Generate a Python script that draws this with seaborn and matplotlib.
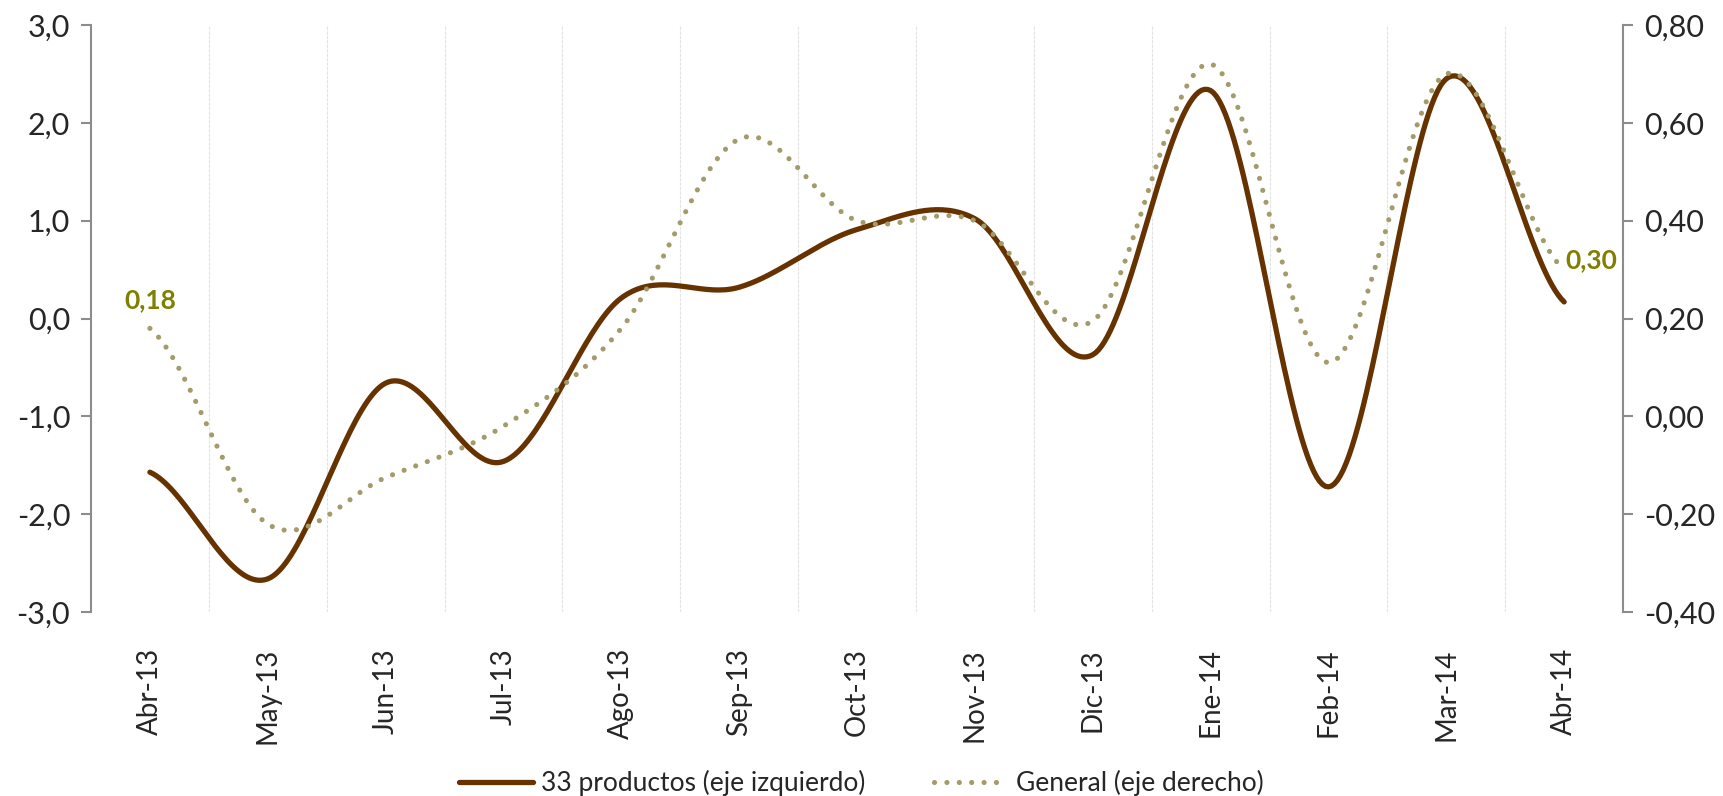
"""
Precios: 33 productos vs general (variación %), abr-13 a abr-14
"""

import numpy as np
import pandas as pd
import matplotlib
matplotlib.use("Agg")
import matplotlib.pyplot as plt
import seaborn as sns
from matplotlib.lines import Line2D
from matplotlib.ticker import FuncFormatter

# Data
meses = ["Abr-13", "May-13", "Jun-13", "Jul-13", "Ago-13", "Sep-13", "Oct-13",
         "Nov-13", "Dic-13", "Ene-14", "Feb-14", "Mar-14", "Abr-14"]
productos_33 = [-1.57, -2.66, -0.66, -1.46, 0.21, 0.32, 0.91,
                1.02, -0.37, 2.33, -1.72, 2.45, 0.17]
general = [0.18, -0.22, -0.125, -0.02, 0.18, 0.567, 0.40,
           0.40, 0.195, 0.72, 0.11, 0.70, 0.30]

BROWN = "#663300"
DOTS = "#A39B6A"
LABEL = "#808000"
AXIS = "#8C8C8C"


def smooth(values, n=40):
    """Excel-like smoothed line (Catmull-Rom through every point)."""
    y = np.asarray(values, dtype=float)
    p = np.concatenate([[y[0]], y, [y[-1]]])
    xs, ys = [], []
    for i in range(len(y) - 1):
        p0, p1, p2, p3 = p[i], p[i + 1], p[i + 2], p[i + 3]
        t = np.linspace(0, 1, n, endpoint=False)
        c = (0.5 * ((2 * p1) + (-p0 + p2) * t + (2 * p0 - 5 * p1 + 4 * p2 - p3) * t ** 2
                    + (-p0 + 3 * p1 - 3 * p2 + p3) * t ** 3))
        xs.append(i + t)
        ys.append(c)
    xs.append([len(y) - 1])
    ys.append([y[-1]])
    return np.concatenate(xs), np.concatenate(ys)


sns.set_style("white")
plt.rcParams["font.family"] = ["Lato", "DejaVu Sans"]

fig, ax = plt.subplots(figsize=(17.23, 7.96), dpi=100)
fig.subplots_adjust(left=0.0528, right=0.942, top=0.9686, bottom=0.231)
ax2 = ax.twinx()

x1, y1 = smooth(productos_33)
df1 = pd.DataFrame({"x": x1, "y": y1})
sns.lineplot(data=df1, x="x", y="y", ax=ax, color=BROWN, linewidth=3.8,
             solid_capstyle="round", zorder=3)

dot_style = (0, (0.01, 2.4))
x2, y2 = smooth(general)
df2 = pd.DataFrame({"x": x2, "y": y2})
sns.lineplot(data=df2, x="x", y="y", ax=ax2, color=DOTS, linewidth=3.7,
             linestyle=dot_style, dash_capstyle="round", zorder=2)

n = len(meses)
for a in (ax, ax2):
    a.set_xlim(-0.5, n - 0.5)
    a.set_xlabel("")
    a.set_ylabel("")

ax.set_ylim(-3, 3)
ax.set_yticks(np.arange(-3, 3.01, 1))
ax.yaxis.set_major_formatter(FuncFormatter(lambda v, p: f"{v:.1f}".replace(".", ",")))
ax2.set_ylim(-0.4, 0.8)
ax2.set_yticks(np.arange(-0.4, 0.801, 0.2))
ax2.yaxis.set_major_formatter(FuncFormatter(lambda v, p: f"{v:.2f}".replace(".", ",")))

ax.set_xticks(range(n))
ax.set_xticklabels(meses, rotation=90)
ax.tick_params(axis="x", length=0, pad=26, labelsize=20)
ax.tick_params(axis="y", length=7, width=1.5, color=AXIS, labelsize=22, pad=8, left=True)
ax2.tick_params(axis="y", length=7, width=1.5, color=AXIS, labelsize=22, pad=8, right=True)

# band separators
for b in np.arange(0.5, n - 0.5, 1):
    ax.axvline(b, color="#E3E3E3", linewidth=0.8, linestyle=(0, (3, 1)), zorder=0)

for a in (ax, ax2):
    for s in ("top", "bottom"):
        a.spines[s].set_visible(False)
    a.spines["left"].set_color(AXIS)
    a.spines["right"].set_color(AXIS)
    a.spines["left"].set_linewidth(1.5)
    a.spines["right"].set_linewidth(1.5)
ax.spines["right"].set_visible(False)
ax2.spines["left"].set_visible(False)

# data labels for first and last point of "General"
ax2.annotate(f"{general[0]:.2f}".replace(".", ","), (0, general[0]),
             xytext=(0, 12), textcoords="offset points", ha="center", va="bottom",
             color=LABEL, fontsize=19, fontweight="bold")
ax2.annotate(f"{general[-1]:.2f}".replace(".", ","), (n - 1, general[-1]),
             xytext=(1, -2), textcoords="offset points", ha="left", va="bottom",
             color=LABEL, fontsize=19, fontweight="bold")

handles = [
    Line2D([], [], color=BROWN, linewidth=3.8, solid_capstyle="round"),
    Line2D([], [], color=DOTS, linewidth=3.7, linestyle=dot_style,
           dash_capstyle="round"),
]
fig.legend(handles, ["33 productos (eje izquierdo)", "General (eje derecho)"],
           loc="lower center", bbox_to_anchor=(0.5, -0.03), ncol=2, frameon=False,
           fontsize=19, handlelength=2.8, columnspacing=2.6, handletextpad=0.3)

plt.savefig("out.png", dpi=100)
